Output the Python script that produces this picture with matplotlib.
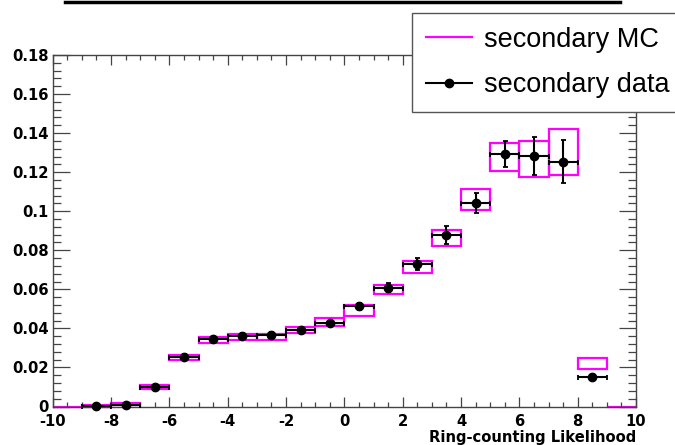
import numpy as np
import matplotlib.pyplot as plt
from matplotlib.lines import Line2D
from matplotlib.ticker import MultipleLocator

# MC: bin centres, value and error (drawn as hollow boxes)
mc_x = [-9.5, -8.5, -7.5, -6.5, -5.5, -4.5, -3.5, -2.5, -1.5, -0.5,
        0.5, 1.5, 2.5, 3.5, 4.5, 5.5, 6.5, 7.5, 8.5, 9.5]
mc_y = [0.0, 0.0003, 0.0012, 0.0101, 0.0251, 0.0339, 0.0357, 0.0357, 0.0390, 0.0432,
        0.0493, 0.0599, 0.0713, 0.0863, 0.1059, 0.1278, 0.1267, 0.1304, 0.0219, 0.0]
mc_err = [0.0, 0.0003, 0.0005, 0.0010, 0.0013, 0.0015, 0.0014, 0.0014, 0.0015, 0.0020,
          0.0027, 0.0023, 0.0031, 0.0041, 0.0053, 0.0070, 0.0094, 0.0119, 0.0028, 0.0]

# data points
data_x = [-8.5, -7.5, -6.5, -5.5, -4.5, -3.5, -2.5, -1.5, -0.5,
          0.5, 1.5, 2.5, 3.5, 4.5, 5.5, 6.5, 7.5, 8.5]
data_y = [0.0004, 0.0010, 0.0101, 0.0255, 0.0344, 0.0361, 0.0365, 0.0393, 0.0429,
          0.0513, 0.0608, 0.0730, 0.0878, 0.1044, 0.1293, 0.1283, 0.1254, 0.0150]
data_err = [0.0003, 0.0005, 0.0008, 0.0012, 0.0014, 0.0014, 0.0014, 0.0015, 0.0016,
            0.0018, 0.0023, 0.0033, 0.0045, 0.0051, 0.0068, 0.0096, 0.0109, 0.0012]
bin_width = 1.0

xticks = [-10, -8, -6, -4, -2, 0, 2, 4, 6, 8, 10]
xtick_labels = ['-10', '-8', '-6', '-4', '-2', '0', '2', '4', '6', '8', '10']
yticks = [0, 0.02, 0.04, 0.06, 0.08, 0.1, 0.12, 0.14, 0.16, 0.18]
ytick_labels = ['0', '0.02', '0.04', '0.06', '0.08', '0.1', '0.12', '0.14', '0.16', '0.18']

magenta = '#ff00ff'

fig = plt.figure(figsize=(6.75, 4.45), dpi=100)
ax = fig.add_axes([52.7 / 675, 1 - 406.5 / 445, (636 - 52.7) / 675, (406.5 - 55) / 445])

mc_y = np.array(mc_y)
mc_err = np.array(mc_err)
bars = ax.bar(mc_x, 2 * mc_err, bottom=mc_y - mc_err, width=bin_width,
              fill=False, edgecolor=magenta, linewidth=1.6)
for b in bars:
    b.set_clip_on(False)

eb = ax.errorbar(data_x, data_y, yerr=data_err, xerr=bin_width / 2, fmt='o',
                 color='black', ms=6, lw=1.5, capsize=1.8, capthick=1.3, zorder=3)
for art in eb.get_children():
    art.set_clip_on(False)

ax.set_xlim(-10, 10)
ax.set_ylim(0, 0.18)

ax.set_xticks(xticks, labels=xtick_labels)
ax.set_yticks(yticks, labels=ytick_labels)
ax.xaxis.set_minor_locator(MultipleLocator(0.5))
ax.yaxis.set_minor_locator(MultipleLocator(0.004))

tick_font = dict(family='DejaVu Sans', weight='bold', size=10.6)
for lab in ax.get_xticklabels() + ax.get_yticklabels():
    lab.set_fontproperties(tick_font)

ax.tick_params(axis='both', which='both', direction='in', top=True, right=True,
               color='#444444', width=0.9)
ax.tick_params(axis='y', which='major', length=12, pad=3)
ax.tick_params(axis='y', which='minor', length=6)
ax.tick_params(axis='x', which='major', length=7.5, pad=5.5)
ax.tick_params(axis='x', which='minor', length=3.5)

for sp in ax.spines.values():
    sp.set_color('#444444')
    sp.set_linewidth(1.0)

ax.set_xlabel('Ring-counting Likelihood', fontsize=10.6, fontweight='bold',
              family='DejaVu Sans', ha='right', va='top')
ax.xaxis.set_label_coords(1.0, -0.066)

handles = [Line2D([], [], color=magenta, lw=1.6),
           Line2D([], [], color='black', marker='o', ms=6, lw=1.5)]
leg = fig.legend(handles, ['secondary MC', 'secondary data'],
                 loc='upper left', bbox_to_anchor=(412 / 675, 1 - 13 / 445),
                 borderaxespad=0, frameon=True, fancybox=False, framealpha=1,
                 edgecolor='#555555', prop=dict(family='Liberation Sans', size=19.5),
                 handlelength=1.7, handletextpad=0.45, borderpad=0.5, labelspacing=0.72)
leg.get_frame().set_linewidth(1.0)

# bottom edge of the title box, cut off at the top of the picture
fig.add_artist(Line2D([65 / 675, 620 / 675], [1 - 2 / 445, 1 - 2 / 445],
                      color='black', lw=2.5, transform=fig.transFigure))

plt.savefig('out.png', dpi=100)
